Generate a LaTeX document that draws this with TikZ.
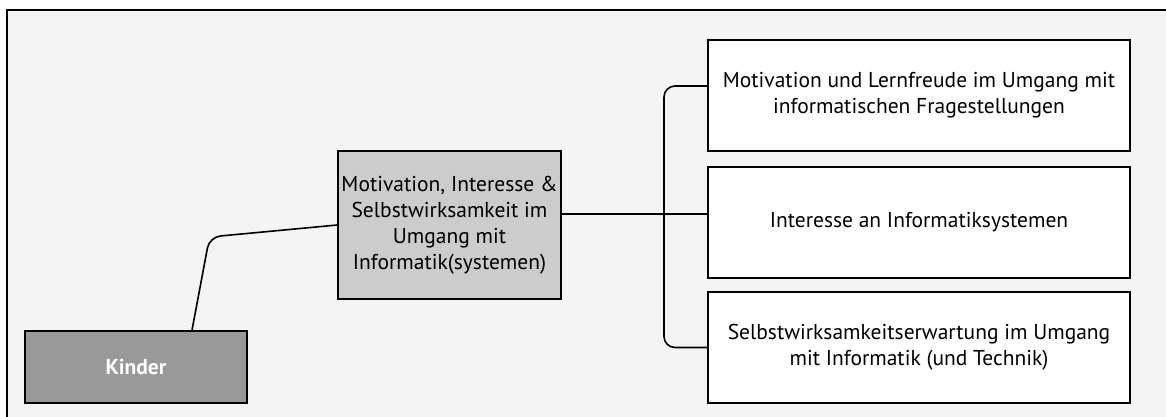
\documentclass[tikz,border=0pt]{standalone}
\usepackage{fontspec}
\setmainfont{PT Sans}
\usetikzlibrary{calc}
\definecolor{canvas}{HTML}{F4F4F4}
\definecolor{midgray}{HTML}{CCCCCC}
\definecolor{darkgray}{HTML}{999999}
\begin{document}
\begin{tikzpicture}[x=1pt,y=-1pt,
  every node/.style={font=\fontsize{21.5}{26}\selectfont},
  box/.style={draw=black, line width=1.6pt, inner sep=0pt, align=center},
  leafbox/.style={box, fill=white, minimum width=422pt, minimum height=111pt},
  link/.style={draw=black, line width=1.6pt, rounded corners=11pt}]
  \useasboundingbox (0,0) rectangle (1166,416);
  \clip (0,0) rectangle (1166,416);
  % outer frame of the sheet
  \draw[fill=canvas, line width=1.6pt] (7,10) rectangle (1190,440);

  % nodes
  \node[box, fill=darkgray, minimum width=222pt, minimum height=72pt,
        text=white, font=\fontsize{21.5}{26}\selectfont\bfseries]
        (kinder) at (136,367) {Kinder};
  \node[box, fill=midgray, minimum width=223pt, minimum height=148pt]
        (mid) at (449.5,225) {Motivation, Interesse \&\\Selbstwirksamkeit im\\Umgang mit\\Informatik(systemen)};
  \node[leafbox] (b1) at (919,95.5) {Motivation und Lernfreude im Umgang mit\\informatischen Fragestellungen};
  \node[leafbox] (b2) at (919,222.5) {Interesse an Informatiksystemen};
  \node[leafbox] (b3) at (919,347.5) {Selbstwirksamkeitserwartung im Umgang\\mit Informatik (und Technik)};

  % connector anchors
  \coordinate (kfoot) at ($(kinder.north)+(56,0)$);
  \coordinate (kbend) at (209.5,237);
  \coordinate (mout) at ($(mid.east)+(0,-11)$);
  \coordinate (t2) at (b2.west |- mout);
  \coordinate (t1) at ($(b1.west)+(0,-9.5)$);
  \coordinate (t3) at (b3.west);
  \coordinate (trunktop) at (664,0 |- t1);
  \coordinate (trunkbot) at (664,0 |- t3);

  % connectors
  \path[link] (kfoot) -- (kbend) -- (mid.west);
  \path[link] (mout) -- (t2);
  \path[link] (t1) -- (trunktop) -- (trunkbot) -- (t3);
\end{tikzpicture}
\end{document}
